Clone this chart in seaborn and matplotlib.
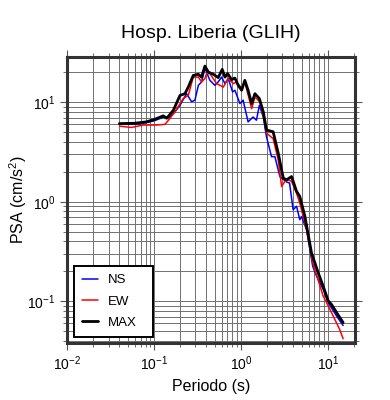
import numpy as np
import matplotlib
matplotlib.use('Agg')
import matplotlib.pyplot as plt
import seaborn as sns
import pandas as pd

# Periodos (s) y PSA (cm/s2)
t_ns = [0.04, 0.07, 0.1, 0.13, 0.15, 0.174, 0.199, 0.237, 0.271, 0.296, 0.324, 0.353, 0.385,
        0.44, 0.502, 0.548, 0.6, 0.655, 0.714, 0.803, 0.853, 0.974, 1.06, 1.21, 1.38, 1.51,
        1.63, 1.81, 1.97, 2.25, 2.46, 2.81, 3.35, 3.63, 3.99, 4.37, 4.76, 4.98, 5.69, 6.7,
        7.41, 8.83, 10.1, 12.6, 15.0]
psa_ns = [6.0, 6.05, 6.5, 7.1, 7.0, 8.0, 9.3, 12.2, 10.1, 10.5, 14.8, 16.0, 22.0,
          16.6, 14.8, 16.0, 17.9, 15.4, 17.3, 12.7, 13.2, 9.7, 10.5, 6.35, 7.1, 6.6,
          9.3, 7.1, 4.5, 2.84, 2.84, 1.79, 1.58, 1.54, 0.83, 0.9, 0.66, 0.71, 0.525, 0.225,
          0.179, 0.132, 0.097, 0.071, 0.057]

t_ew = [0.04, 0.055, 0.075, 0.107, 0.134, 0.153, 0.174, 0.217, 0.248, 0.283, 0.324, 0.353,
        0.385, 0.403, 0.44, 0.525, 0.627, 0.714, 0.816, 0.892, 1.02, 1.11, 1.33, 1.45, 1.65,
        1.89, 1.97, 2.35, 2.69, 2.94, 3.2, 3.5, 3.83, 4.37, 4.76, 5.69, 6.7, 8.83, 10.1,
        12.0, 13.7, 15.0]
psa_ew = [5.75, 5.58, 5.9, 5.9, 6.0, 6.9, 8.0, 10.9, 11.7, 17.9, 17.9, 16.0,
          17.3, 19.4, 19.4, 15.4, 14.2, 17.3, 15.4, 16.0, 13.7, 16.0, 8.6, 11.3, 10.1,
          6.1, 4.9, 4.3, 2.63, 1.42, 1.6, 1.66, 1.6, 1.22, 0.97, 0.525, 0.244, 0.113, 0.09,
          0.066, 0.052, 0.042]

t_max = [0.04, 0.06, 0.082, 0.1, 0.128, 0.14, 0.167, 0.199, 0.227, 0.248, 0.283, 0.324,
         0.353, 0.385, 0.422, 0.481, 0.548, 0.61, 0.655, 0.703, 0.782, 0.853, 0.931, 1.02,
         1.11, 1.21, 1.33, 1.45, 1.63, 1.81, 1.97, 2.35, 2.69, 3.07, 3.35, 3.83, 4.37, 4.76,
         5.45, 6.49, 7.74, 8.83, 10.1, 11.0, 12.6, 15.0]
psa_max = [6.1, 6.15, 6.35, 6.7, 7.3, 6.9, 8.3, 11.7, 12.2, 14.2, 18.6, 19.1,
           17.9, 23.1, 20.1, 19.1, 17.7, 21.4, 17.9, 19.4, 16.9, 17.5, 14.8, 13.2,
           16.6, 13.2, 9.7, 12.2, 10.9, 8.0, 5.25, 5.05, 3.07, 1.73, 1.66, 1.79, 1.27, 1.13,
           0.713, 0.307, 0.194, 0.142, 0.101, 0.093, 0.077, 0.061]

sns.set_style("ticks")
plt.rcParams['font.family'] = ['Liberation Sans', 'DejaVu Sans']
plt.rcParams['mathtext.fontset'] = 'custom'
plt.rcParams['mathtext.rm'] = 'Liberation Sans'
plt.rcParams['mathtext.it'] = 'Liberation Sans:italic'
plt.rcParams['text.color'] = 'black'
plt.rcParams['axes.labelcolor'] = 'black'

fig = plt.figure(figsize=(3.9, 4.0), dpi=100)
ax = fig.add_axes([0.172, 0.1425, 0.738, 0.715])

sns.lineplot(x=t_ns, y=psa_ns, color='blue', linewidth=1.1, label='NS', ax=ax, sort=False)
sns.lineplot(x=t_ew, y=psa_ew, color='red', linewidth=1.1, label='EW', ax=ax, sort=False)
sns.lineplot(x=t_max, y=psa_max, color='black', linewidth=2.0, label='MAX', ax=ax, sort=False)

ax.set_xscale('log')
ax.set_yscale('log')
ax.set_xlim(0.01, 20.5)
ax.set_ylim(0.038, 28.5)

ax.grid(True, which='both', color='#707070', linewidth=0.7)
ax.set_axisbelow(True)
for s in ax.spines.values():
    s.set_linewidth(2.2)
    s.set_color('#333333')
ax.tick_params(which='both', direction='out', top=True, right=True, labelsize=10,
               color='#555555', labelcolor='black')
ax.tick_params(which='major', length=5)
ax.tick_params(which='minor', length=3)

ax.set_title('Hosp. Liberia (GLIH)', fontsize=14, pad=14, color='black')
ax.set_xlabel('Periodo (s)', fontsize=11.5)
ax.set_ylabel('PSA (cm/s$^2$)', fontsize=11.5, labelpad=-1)

leg = ax.legend(loc='lower left', bbox_to_anchor=(0.024, 0.021, 0.274, 0.25), mode='expand',
                fancybox=False, edgecolor='black', framealpha=1, fontsize=9.5, borderpad=0.6,
                labelspacing=0.7, handlelength=1.2, handletextpad=0.75, borderaxespad=0)
leg.get_frame().set_linewidth(1.4)

fig.savefig('out.png', dpi=100)
